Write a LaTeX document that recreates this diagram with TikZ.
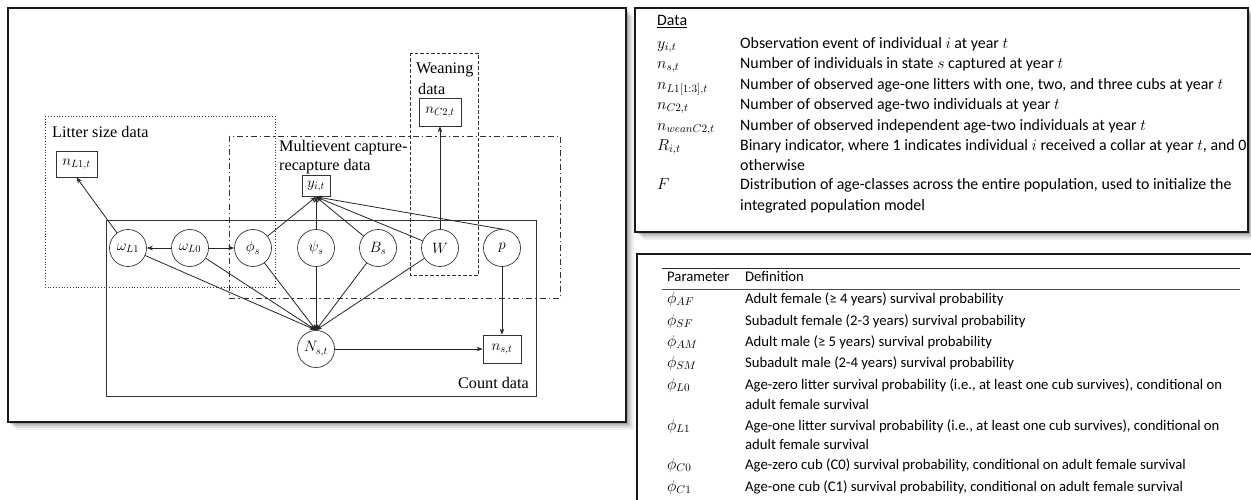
\RequirePackage{fix-cm}
\documentclass[tikz,border=0pt]{standalone}
\usepackage{fontspec}
\setmainfont{Liberation Serif}
\newfontfamily\tabfont{Carlito}
\usetikzlibrary{arrows.meta}
\newcommand{\tmath}[1]{{\fontsize{16}{18}\selectfont$#1$}}
\begin{document}
\begin{tikzpicture}[x=1pt,y=-1pt,
  pnode/.style={circle,draw=black!80,line width=0.7pt,minimum size=37pt,inner sep=0pt,font=\fontsize{15}{17}\selectfont},
  dnode/.style={rectangle,draw=black!80,line width=0.7pt,inner sep=2.5pt,minimum height=26pt,font=\fontsize{15}{17}\selectfont},
  edge/.style={-{Stealth[length=6pt,width=4.5pt]},line width=0.8pt,black!85},
  lab/.style={font=\fontsize{16.2}{18}\selectfont,inner sep=0pt,anchor=west},
  panel/.style={draw=black!90,line width=1.4pt,fill=white},
  ttxt/.style={font=\tabfont\fontsize{15.9}{17}\selectfont,inner sep=0pt,anchor=west,text height=10pt,text depth=3pt},
  ptxt/.style={font=\tabfont\fontsize{14.7}{16}\selectfont,inner sep=0pt,anchor=west,text height=10pt,text depth=3pt},
  grp/.style={line width=0.8pt,black!80}
]
\useasboundingbox (0,0) rectangle (1251,500);
\clip (0,0) rectangle (1251,500);

% shadows
\foreach \d/\o in {8/0.06,6/0.08,4/0.12,2/0.18}{
  \fill[black,opacity=\o] (8+\d,8+\d) rectangle (626+\d,422+\d);
  \fill[black,opacity=\o] (635+\d,8+\d) rectangle (1248+\d,232+\d);
}
% panels
\draw[panel] (8,8) rectangle (626,422);
\draw[panel] (635,8) rectangle (1248,232);
\draw[panel] (637,254) rectangle (1270,520);

% ---------- diagram ----------
\draw[grp,dotted] (45,116) rectangle (275,287);
\draw[grp,dash pattern=on 6pt off 3pt on 1.5pt off 3pt] (229,136) rectangle (560,298);
\draw[grp,dash pattern=on 3.5pt off 2pt] (410,53) rectangle (478,275);
\draw[line width=1pt,black!80] (106,220) rectangle (536,396);

\node[lab] (tlit) at (52,132) {Litter size data};
\node[lab] (tmul1) at (279,148) {Multievent capture-};
\node[lab] (tmul2) at (279,167) {recapture data};
\node[lab] (twea1) at (416,70) {Weaning};
\node[lab] (twea2) at (418,89) {data};
\node[lab,anchor=east] (tcount) at (529,383) {Count data};

% nodes
\node[dnode,minimum width=41pt] (nL1) at (76.5,164) {$n_{L1,t}$};
\node[dnode,minimum width=42pt,minimum height=28pt] (nC2) at (440,112) {$n_{C2,t}$};
\node[dnode,minimum width=28pt,minimum height=21pt,inner sep=1pt] (y) at (316,186) {$y_{i,t}$};
\node[pnode] (wL1) at (128,248) {$\omega_{L1}$};
\node[pnode] (wL0) at (190,248) {$\omega_{L0}$};
\node[pnode] (phi) at (253,248) {$\phi_s$};
\node[pnode] (psi) at (316,248) {$\psi_s$};
\node[pnode] (B) at (378,248) {$B_s$};
\node[pnode] (W) at (440,248) {$W$};
\node[pnode] (p) at (502,248) {$p$};
\node[pnode] (N) at (316,349) {$N_{s,t}$};
\node[dnode,minimum width=38pt,minimum height=28pt] (ns) at (502,349) {$n_{s,t}$};

% edges
\draw[edge] (wL1) -- (nL1.south);
\draw[edge] (wL0) -- (wL1);
\draw[edge] (wL0) -- (phi);
\foreach \s in {wL1,wL0,phi,psi,B,W}{\draw[edge] (\s) -- (N.north);}
\foreach \s in {phi,psi,B,W}{\draw[edge] (\s) -- (y.south);}
\draw[edge] (p.north) -- (y.south);
\draw[edge] (W) -- (nC2);
\draw[edge] (p) -- (ns);
\draw[edge] (N) -- (ns);

% ---------- data table ----------
\node[ttxt] (hd) at (657,22) {\underline{Data}};
\node[ttxt] (s1) at (657,45) {\tmath{y_{i,t}}};
\node[ttxt] (d1) at (740,45) {Observation event of individual $i$ at year $t$};
\node[ttxt] (s2) at (657,65) {\tmath{n_{s,t}}};
\node[ttxt] (d2) at (740,65) {Number of individuals in state $s$ captured at year $t$};
\node[ttxt] (s3) at (657,86) {\tmath{n_{L1[1:3],t}}};
\node[ttxt] (d3) at (740,86) {Number of observed age-one litters with one, two, and three cubs at year $t$};
\node[ttxt] (s4) at (657,106) {\tmath{n_{C2,t}}};
\node[ttxt] (d4) at (740,106) {Number of observed age-two individuals at year $t$};
\node[ttxt] (s5) at (657,127) {\tmath{n_{weanC2,t}}};
\node[ttxt] (d5) at (740,127) {Number of observed independent age-two individuals at year $t$};
\node[ttxt] (s6) at (657,147) {\tmath{R_{i,t}}};
\node[ttxt] (d6) at (740,147) {Binary indicator, where 1 indicates individual $i$ received a collar at year $t$, and 0};
\node[ttxt] (d6b) at (740,167) {otherwise};
\node[ttxt] (s7) at (657,186) {\tmath{F}};
\node[ttxt] (d7) at (740,186) {Distribution of age-classes across the entire population, used to initialize the};
\node[ttxt] (d7b) at (740,207) {integrated population model};

% ---------- parameter table ----------
\draw[line width=1pt,black!85] (662,268) -- (1240,268);
\draw[line width=0.6pt,black!70] (662,289) -- (1240,289);
\node[ptxt] (ph) at (667,278) {Parameter};
\node[ptxt] (dh) at (745,278) {Definition};
\node[ptxt] (p1) at (667,300) {\tmath{\phi_{AF}}};
\node[ptxt] (q1) at (745,300) {Adult female (≥ 4 years) survival probability};
\node[ptxt] (p2) at (667,322) {\tmath{\phi_{SF}}};
\node[ptxt] (q2) at (745,322) {Subadult female (2-3 years) survival probability};
\node[ptxt] (p3) at (667,343) {\tmath{\phi_{AM}}};
\node[ptxt] (q3) at (745,343) {Adult male (≥ 5 years) survival probability};
\node[ptxt] (p4) at (667,364) {\tmath{\phi_{SM}}};
\node[ptxt] (q4) at (745,364) {Subadult male (2-4 years) survival probability};
\node[ptxt] (p5) at (667,386) {\tmath{\phi_{L0}}};
\node[ptxt] (q5) at (745,386) {Age-zero litter survival probability (i.e., at least one cub survives), conditional on};
\node[ptxt] (q5b) at (745,406) {adult female survival};
\node[ptxt] (p6) at (667,427) {\tmath{\phi_{L1}}};
\node[ptxt] (q6) at (745,427) {Age-one litter survival probability (i.e., at least one cub survives), conditional on};
\node[ptxt] (q6b) at (745,446) {adult female survival};
\node[ptxt] (p7) at (667,466) {\tmath{\phi_{C0}}};
\node[ptxt] (q7) at (745,466) {Age-zero cub (C0) survival probability, conditional on adult female survival};
\node[ptxt] (p8) at (667,488) {\tmath{\phi_{C1}}};
\node[ptxt] (q8) at (745,488) {Age-one cub (C1) survival probability, conditional on adult female survival};
\end{tikzpicture}
\end{document}
